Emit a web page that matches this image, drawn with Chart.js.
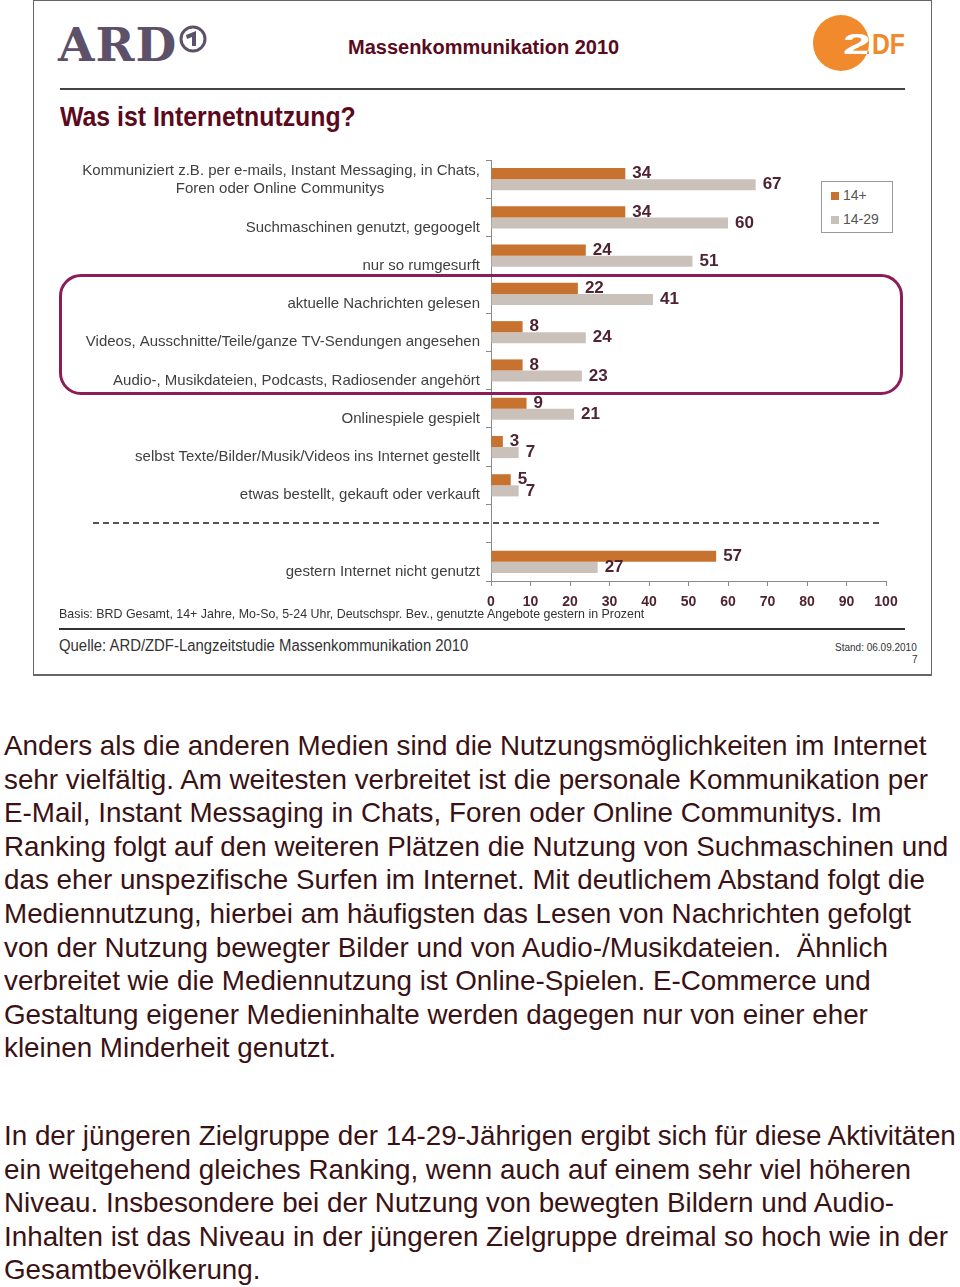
<!DOCTYPE html>
<html lang="de">
<head>
<meta charset="utf-8">
<script src="https://cdn.jsdelivr.net/npm/chart.js@4.4.0/dist/chart.umd.min.js"></script>
<style>
  body { margin: 0; background: #fff; }
  #page { position: relative; width: 960px; height: 1287px; overflow: hidden; font-family: "Liberation Sans", Arial, sans-serif; }
  .abs { position: absolute; white-space: nowrap; }
  .narrow { transform-origin: 0 50%; }
  #slide { left: 33px; top: 0; width: 897px; height: 673px; border: 1px solid #666; border-bottom-width: 2px; }
  #chartBox { left: 40px; top: 145px; width: 890px; height: 480px; }
  #legend { left: 821px; top: 181px; width: 70px; height: 50px; border: 1px solid #999; background: #fff; font-size: 14px; color: #555; }
  #legend div { position: absolute; left: 9px; }
  #legend span.sw { display: inline-block; width: 8px; height: 8px; margin-right: 4px; vertical-align: 0px; }
  .para { left: 4px; font-size: 27.8px; line-height: 33.6px; color: #3a1214; }
</style>
</head>
<body>
<div id="page">
  <div id="slide" class="abs"></div>

  <!-- ARD logo -->
  <div class="abs" style="left:58px;top:17px;font-family:'DejaVu Serif',serif;font-weight:bold;font-size:47px;color:#5d5169;letter-spacing:1px;">ARD</div>
  <svg class="abs" style="left:176px;top:23px" width="34" height="34">
    <circle cx="17" cy="16" r="12" fill="none" stroke="#5d5169" stroke-width="3"/>
    <path d="M10 12 L20 8 L20 23 L16 23 L16 14 L11 16 Z" fill="#5d5169"/>
  </svg>

  <div class="abs" style="left:348px;top:36px;font-size:20px;font-weight:bold;color:#5a0a1c;">Massenkommunikation 2010</div>

  <!-- ZDF logo -->
  <svg class="abs" style="left:808px;top:10px" width="110" height="66">
    <defs><clipPath id="ball"><circle cx="33" cy="33" r="28"/></clipPath></defs>
    <circle cx="33" cy="33" r="28" fill="#f08a2c"/>
    <text x="35" y="44" textLength="28" lengthAdjust="spacingAndGlyphs" font-family="'Liberation Sans', sans-serif" font-weight="bold" font-size="29" fill="#f08a2c">2</text>
    <text x="35" y="44" textLength="28" lengthAdjust="spacingAndGlyphs" font-family="'Liberation Sans', sans-serif" font-weight="bold" font-size="29" fill="#fff" clip-path="url(#ball)">2</text>
    <text x="64" y="44" textLength="33" lengthAdjust="spacingAndGlyphs" font-family="'Liberation Sans', sans-serif" font-weight="bold" font-size="29" fill="#f08a2c">DF</text>
  </svg>

  <div class="abs" style="left:60px;top:88px;width:845px;height:2px;background:#444;"></div>
  <div class="abs narrow" style="left:60px;top:102px;font-size:27px;font-weight:bold;color:#5a0a1c;transform:scaleX(0.92);">Was ist Internetnutzung?</div>

  <div id="chartBox" class="abs"><canvas id="chartInternet"></canvas></div>

  <!-- highlight frame and separator -->
  <div class="abs" style="left:59px;top:274px;width:838px;height:115px;border:3px solid #8c1c5a;border-radius:22px;"></div>
  <div class="abs" style="left:93px;top:522px;width:786px;height:0;border-top:2px dashed #555;"></div>

  <div id="legend" class="abs"></div>

  <div class="abs narrow" style="left:59px;top:606px;font-size:13px;color:#333;transform:scaleX(0.955);">Basis: BRD Gesamt, 14+ Jahre, Mo-So, 5-24 Uhr, Deutschspr. Bev., genutzte Angebote gestern in Prozent</div>
  <div class="abs" style="left:59px;top:628px;width:846px;height:2px;background:#333;"></div>
  <div class="abs narrow" style="left:59px;top:637px;font-size:16px;color:#333;transform:scaleX(0.93);">Quelle: ARD/ZDF-Langzeitstudie Massenkommunikation 2010</div>
  <div class="abs" style="left:835px;top:642px;font-size:10px;color:#333;">Stand: 06.09.2010</div>
  <div class="abs" style="left:912px;top:654px;font-size:10px;color:#333;">7</div>

  <div class="abs para" style="top:729px;">Anders als die anderen Medien sind die Nutzungsmöglichkeiten im Internet<br>sehr vielfältig. Am weitesten verbreitet ist die personale Kommunikation per<br>E-Mail, Instant Messaging in Chats, Foren oder Online Communitys. Im<br>Ranking folgt auf den weiteren Plätzen die Nutzung von Suchmaschinen und<br>das eher unspezifische Surfen im Internet. Mit deutlichem Abstand folgt die<br>Mediennutzung, hierbei am häufigsten das Lesen von Nachrichten gefolgt<br>von der Nutzung bewegter Bilder und von Audio-/Musikdateien.&nbsp; Ähnlich<br>verbreitet wie die Mediennutzung ist Online-Spielen. E-Commerce und<br>Gestaltung eigener Medieninhalte werden dagegen nur von einer eher<br>kleinen Minderheit genutzt.</div>
  <div class="abs para" style="top:1119px;">In der jüngeren Zielgruppe der 14-29-Jährigen ergibt sich für diese Aktivitäten<br>ein weitgehend gleiches Ranking, wenn auch auf einem sehr viel höheren<br>Niveau. Insbesondere bei der Nutzung von bewegten Bildern und Audio-<br>Inhalten ist das Niveau in der jüngeren Zielgruppe dreimal so hoch wie in der<br>Gesamtbevölkerung.</div>
</div>

<script>
// Kategorien (leere Zeile = Trennlinie)
const kategorien = [
  ['Kommuniziert z.B. per e-mails, Instant Messaging, in Chats,', 'Foren oder Online Communitys' + ' '.repeat(23), ''],
  'Suchmaschinen genutzt, gegoogelt',
  'nur so rumgesurft',
  'aktuelle Nachrichten gelesen',
  'Videos, Ausschnitte/Teile/ganze TV-Sendungen angesehen',
  'Audio-, Musikdateien, Podcasts, Radiosender angehört',
  'Onlinespiele gespielt',
  'selbst Texte/Bilder/Musik/Videos ins Internet gestellt',
  'etwas bestellt, gekauft oder verkauft',
  '',
  'gestern Internet nicht genutzt'
];
const werteGesamt = [34, 34, 24, 22, 8, 8, 9, 3, 5, null, 57];
const werteJung = [67, 60, 51, 41, 24, 23, 21, 7, 7, null, 27];
const serienNamen = ['14+', '14-29'];
const serienFarben = ['#c8722f', '#cbc1bb'];
const xTicks = [0, 10, 20, 30, 40, 50, 60, 70, 80, 90, 100];

// Werte an die Balkenenden schreiben
const wertLabels = {
  id: 'wertLabels',
  afterDatasetsDraw(chart) {
    const ctx = chart.ctx;
    ctx.save();
    ctx.font = 'bold 17px "Liberation Sans", Arial, sans-serif';
    ctx.fillStyle = '#4f2430';
    ctx.textBaseline = 'middle';
    ctx.textAlign = 'left';
    chart.data.datasets.forEach((ds, i) => {
      chart.getDatasetMeta(i).data.forEach((bar, j) => {
        if (ds.data[j] == null) return;
        ctx.fillText(ds.data[j], bar.x + 7, bar.y);
      });
    });
    ctx.restore();
  }
};

const ctx = document.getElementById('chartInternet').getContext('2d');
const chartInternet = new Chart(ctx, {
  type: 'bar',
  data: {
    labels: kategorien,
    datasets: [
      { label: serienNamen[0], data: werteGesamt, backgroundColor: serienFarben[0] },
      { label: serienNamen[1], data: werteJung, backgroundColor: serienFarben[1] }
    ]
  },
  options: {
    indexAxis: 'y',
    responsive: true,
    maintainAspectRatio: false,
    animation: false,
    layout: { padding: { top: 10, right: 44, bottom: 0, left: 0 } },
    categoryPercentage: 0.58,
    barPercentage: 1,
    plugins: {
      legend: { display: false },
      tooltip: { enabled: false }
    },
    scales: {
      x: {
        min: 0,
        max: 100,
        afterBuildTicks: (s) => { s.ticks = xTicks.map(v => ({ value: v })); },
        afterFit: (s) => { s.height = 44; },
        ticks: {
          padding: 8,
          color: '#4f2430',
          font: { family: '"Liberation Sans", Arial, sans-serif', size: 14, weight: 'bold' }
        },
        grid: { drawOnChartArea: false, tickLength: 5, color: '#8a8a8a' },
        border: { color: '#8a8a8a' }
      },
      y: {
        afterFit: (s) => { s.width = 451; },
        ticks: {
          autoSkip: false,
          padding: 6,
          labelOffset: 10,
          color: '#404040',
          font: { family: '"Liberation Sans", Arial, sans-serif', size: 15, lineHeight: 1.2 }
        },
        grid: { drawOnChartArea: false, tickLength: 5, color: '#8a8a8a' },
        border: { color: '#8a8a8a' }
      }
    }
  },
  plugins: [wertLabels]
});

// Legende aus den Datensätzen
const legend = document.getElementById('legend');
chartInternet.data.datasets.forEach((ds, i) => {
  const item = document.createElement('div');
  item.style.top = (5 + i * 24) + 'px';
  item.innerHTML = '<span class="sw" style="background:' + ds.backgroundColor + '"></span>' + ds.label;
  legend.appendChild(item);
});
</script>
</body>
</html>
